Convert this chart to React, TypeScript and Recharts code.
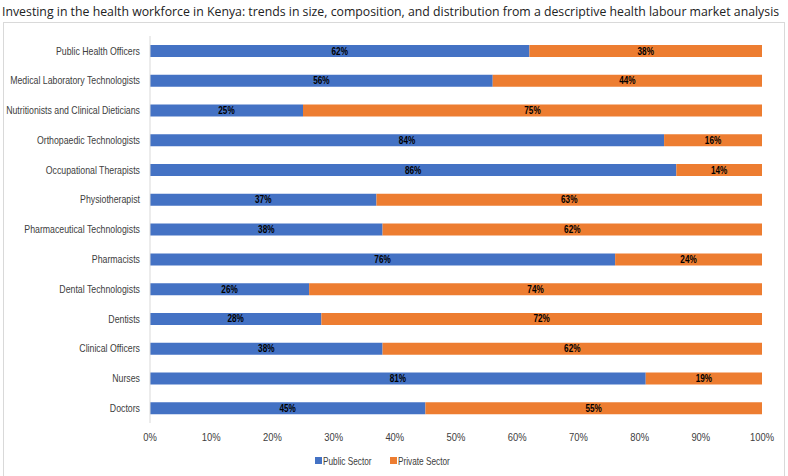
import { Bar, BarChart, LabelList, Legend, XAxis, YAxis } from 'recharts'

const CATEGORIES = [
  'Public Health Officers',
  'Medical Laboratory Technologists',
  'Nutritionists and Clinical Dieticians',
  'Orthopaedic Technologists',
  'Occupational Therapists',
  'Physiotherapist',
  'Pharmaceutical Technologists',
  'Pharmacists',
  'Dental Technologists',
  'Dentists',
  'Clinical Officers',
  'Nurses',
  'Doctors',
]

const PUBLIC_SECTOR = [62, 56, 25, 84, 86, 37, 38, 76, 26, 28, 38, 81, 45]
const PRIVATE_SECTOR = [38, 44, 75, 16, 14, 63, 62, 24, 74, 72, 62, 19, 55]

const X_TICKS = [0, 10, 20, 30, 40, 50, 60, 70, 80, 90, 100]

const SERIES = [
  { key: 'publicSector', name: 'Public Sector', color: '#4472C4', labelWidth: 52 },
  { key: 'privateSector', name: 'Private Sector', color: '#ED7D31', labelWidth: 54 },
]

const TITLE =
  'Investing in the health workforce in Kenya: trends in size, composition, and distribution from a descriptive health labour market analysis'

const FONT = '"Liberation Sans", Arial, sans-serif'
// fake an Arial Narrow look
const NARROW = 0.82

const data = CATEGORIES.map((name, i) => ({
  name,
  publicSector: PUBLIC_SECTOR[i],
  privateSector: PRIVATE_SECTOR[i],
}))

function NarrowTick({ x = 0, y = 0, payload, anchor, dy, format, size = 10.7 }: any) {
  const label = format ? format(payload.value) : payload.value
  return (
    <text
      transform={`translate(${x},${y}) scale(${NARROW},1)`}
      textAnchor={anchor}
      dy={dy}
      fill="#404040"
      fontSize={size}
      fontFamily={FONT}
    >
      {label}
    </text>
  )
}

function BarValue({ x = 0, y = 0, width = 0, height = 0, value }: any) {
  const cx = Number(x) + Number(width) / 2
  const cy = Number(y) + Number(height) / 2
  return (
    <text
      transform={`translate(${cx},${cy}) scale(${NARROW},1)`}
      textAnchor="middle"
      dy="0.35em"
      fill="#000"
      fontSize={10}
      fontWeight={700}
      fontFamily={FONT}
    >
      {value}%
    </text>
  )
}

function LegendContent() {
  return (
    <div style={{ display: 'flex', justifyContent: 'center', gap: 15, height: 18, alignItems: 'center' }}>
      {SERIES.map((s) => (
        <div key={s.key} style={{ display: 'flex', alignItems: 'center', gap: 1 }}>
          <span style={{ width: 7, height: 7, background: s.color, display: 'inline-block' }} />
          <span style={{ width: s.labelWidth, display: 'inline-block', overflow: 'visible' }}>
            <span
              style={{
                fontFamily: FONT,
                fontSize: 11,
                color: '#404040',
                display: 'inline-block',
                whiteSpace: 'nowrap',
                transform: 'scaleX(0.75)',
                transformOrigin: 'left center',
              }}
            >
              {s.name}
            </span>
          </span>
        </div>
      ))}
    </div>
  )
}

export default function App() {
  return (
    <div
      style={{
        position: 'absolute',
        left: 0,
        top: 0,
        width: 788,
        height: 476,
        background: '#fff',
        overflow: 'hidden',
      }}
    >
      <div
        style={{
          position: 'absolute',
          left: 2,
          top: 3,
          fontFamily: '"Open Sans", "Noto Sans", sans-serif',
          fontSize: 12.3,
          color: '#222',
          whiteSpace: 'nowrap',
        }}
      >
        {TITLE}
      </div>
      <div
        style={{
          position: 'absolute',
          left: 3,
          top: 22,
          width: 780,
          height: 470,
          border: '1px solid #d9d9d9',
        }}
      >
        <BarChart
          width={780}
          height={460}
          data={data}
          layout="vertical"
          barSize={12}
          margin={{ top: 13, right: 22, bottom: 14, left: 0 }}
        >
          <XAxis
            type="number"
            domain={[0, 100]}
            ticks={X_TICKS}
            axisLine={false}
            tickLine={false}
            tickMargin={4}
            height={28}
            tick={<NarrowTick anchor="middle" dy="0.71em" size={11.5} format={(v: number) => `${v}%`} />}
          />
          <YAxis
            type="category"
            dataKey="name"
            width={146}
            axisLine={{ stroke: '#d9d9d9' }}
            tickLine={false}
            tickSize={0}
            tickMargin={10}
            interval={0}
            tick={<NarrowTick anchor="end" dy="0.35em" />}
          />
          <Legend verticalAlign="bottom" content={<LegendContent />} />
          {SERIES.map((s) => (
            <Bar
              key={s.key}
              dataKey={s.key}
              name={s.name}
              stackId="a"
              fill={s.color}
              isAnimationActive={false}
            >
              <LabelList dataKey={s.key} content={<BarValue />} />
            </Bar>
          ))}
        </BarChart>
      </div>
    </div>
  )
}
